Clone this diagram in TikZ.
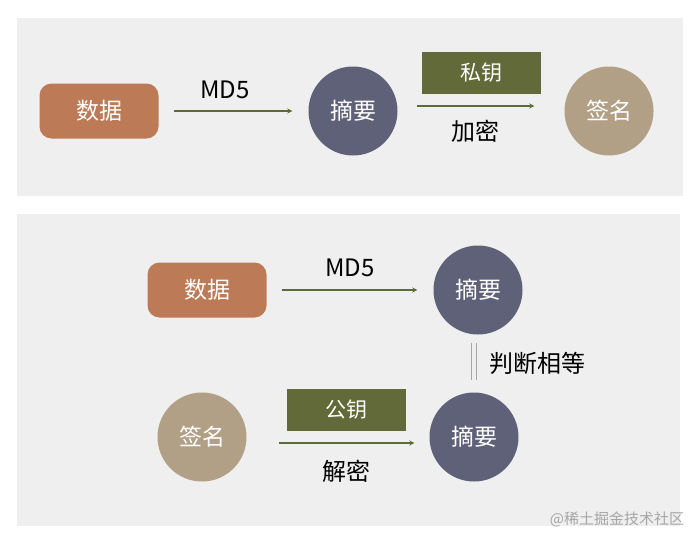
\documentclass[tikz,border=0pt]{standalone}
\usepackage{fontspec}
\setmainfont{Noto Sans CJK SC}
\usepackage{xcolor}
\usetikzlibrary{shapes.geometric, arrows}
\definecolor{panelgray}{HTML}{EFEFEF}
\definecolor{datacolor}{HTML}{BC7B56}
\definecolor{digestcolor}{HTML}{5F6178}
\definecolor{signcolor}{HTML}{B19F86}
\definecolor{keycolor}{HTML}{636A39}
\definecolor{arrowcolor}{HTML}{5E6B35}
\tikzstyle{panel} = [fill=panelgray, draw=none]
\tikzstyle{data} = [rectangle, rounded corners=12pt, minimum width=119pt, minimum height=55pt, text centered, fill=datacolor, text=white, font=\fontsize{23}{27}\selectfont]
\tikzstyle{digest} = [circle, minimum size=89pt, inner sep=0pt, text centered, fill=digestcolor, text=white, font=\fontsize{23}{27}\selectfont]
\tikzstyle{signature} = [circle, minimum size=89pt, inner sep=0pt, text centered, fill=signcolor, text=white, font=\fontsize{23}{27}\selectfont]
\tikzstyle{key} = [rectangle, minimum width=119pt, minimum height=42pt, text centered, fill=keycolor, text=white, font=\fontsize{21}{25}\selectfont]
\tikzstyle{arrowtext} = [text=black, font=\fontsize{24}{28}\selectfont]
\tikzstyle{arrow} = [->, >=stealth, line width=1.2pt, draw=arrowcolor]
\tikzstyle{equal} = [draw=gray!70, line width=0.8pt, double=panelgray, double distance=4pt]

\begin{document}
\begin{tikzpicture}[x=1pt, y=-1pt]

\useasboundingbox (0,0) rectangle (700,543);
\fill[white] (0,0) rectangle (700,543);

% signing
\fill[panel] (17,18) rectangle (683,196);
\node at (99, 111) (data1) [data] {数据};
\node at (353, 111) (digest1) [digest] {摘要};
\node at (609, 111) (sign1) [signature] {签名};
\node at (481, 73) (privkey) [key] {私钥};
\node at (225, 90) (md5a) [arrowtext] {MD5};
\node at (475, 131) (encrypt) [arrowtext] {加密};

\draw[arrow, shorten <=15pt, shorten >=16pt] (data1) -- (digest1);
\draw[arrow, shorten <=19pt, shorten >=30pt] ([yshift=5pt]digest1.east) -- ([yshift=5pt]sign1.west);

% verifying
\fill[panel] (17,214) rectangle (680,526);
\node at (207, 290) (data2) [data] {数据};
\node at (478, 290) (digest2) [digest] {摘要};
\node at (202, 437) (sign2) [signature] {签名};
\node at (474, 437) (digest3) [digest] {摘要};
\node at (346, 410) (pubkey) [key] {公钥};
\node at (350, 268) (md5b) [arrowtext] {MD5};
\node at (346, 471) (decrypt) [arrowtext] {解密};
\node at (537, 363) (same) [arrowtext] {判断相等};

\draw[arrow, shorten <=15pt, shorten >=16pt] (data2) -- (digest2);
\draw[arrow, shorten <=32pt, shorten >=15pt] ([yshift=-6pt]sign2.east) -- ([yshift=-6pt]digest3.west);
\draw[equal, shorten <=8pt, shorten >=12pt] (digest3.north |- digest2.south) -- (digest3.north);

\node at (617, 519) (mark) [text=gray!70, font=\fontsize{15}{17}\selectfont] {@稀土掘金技术社区};

\end{tikzpicture}
\end{document}
